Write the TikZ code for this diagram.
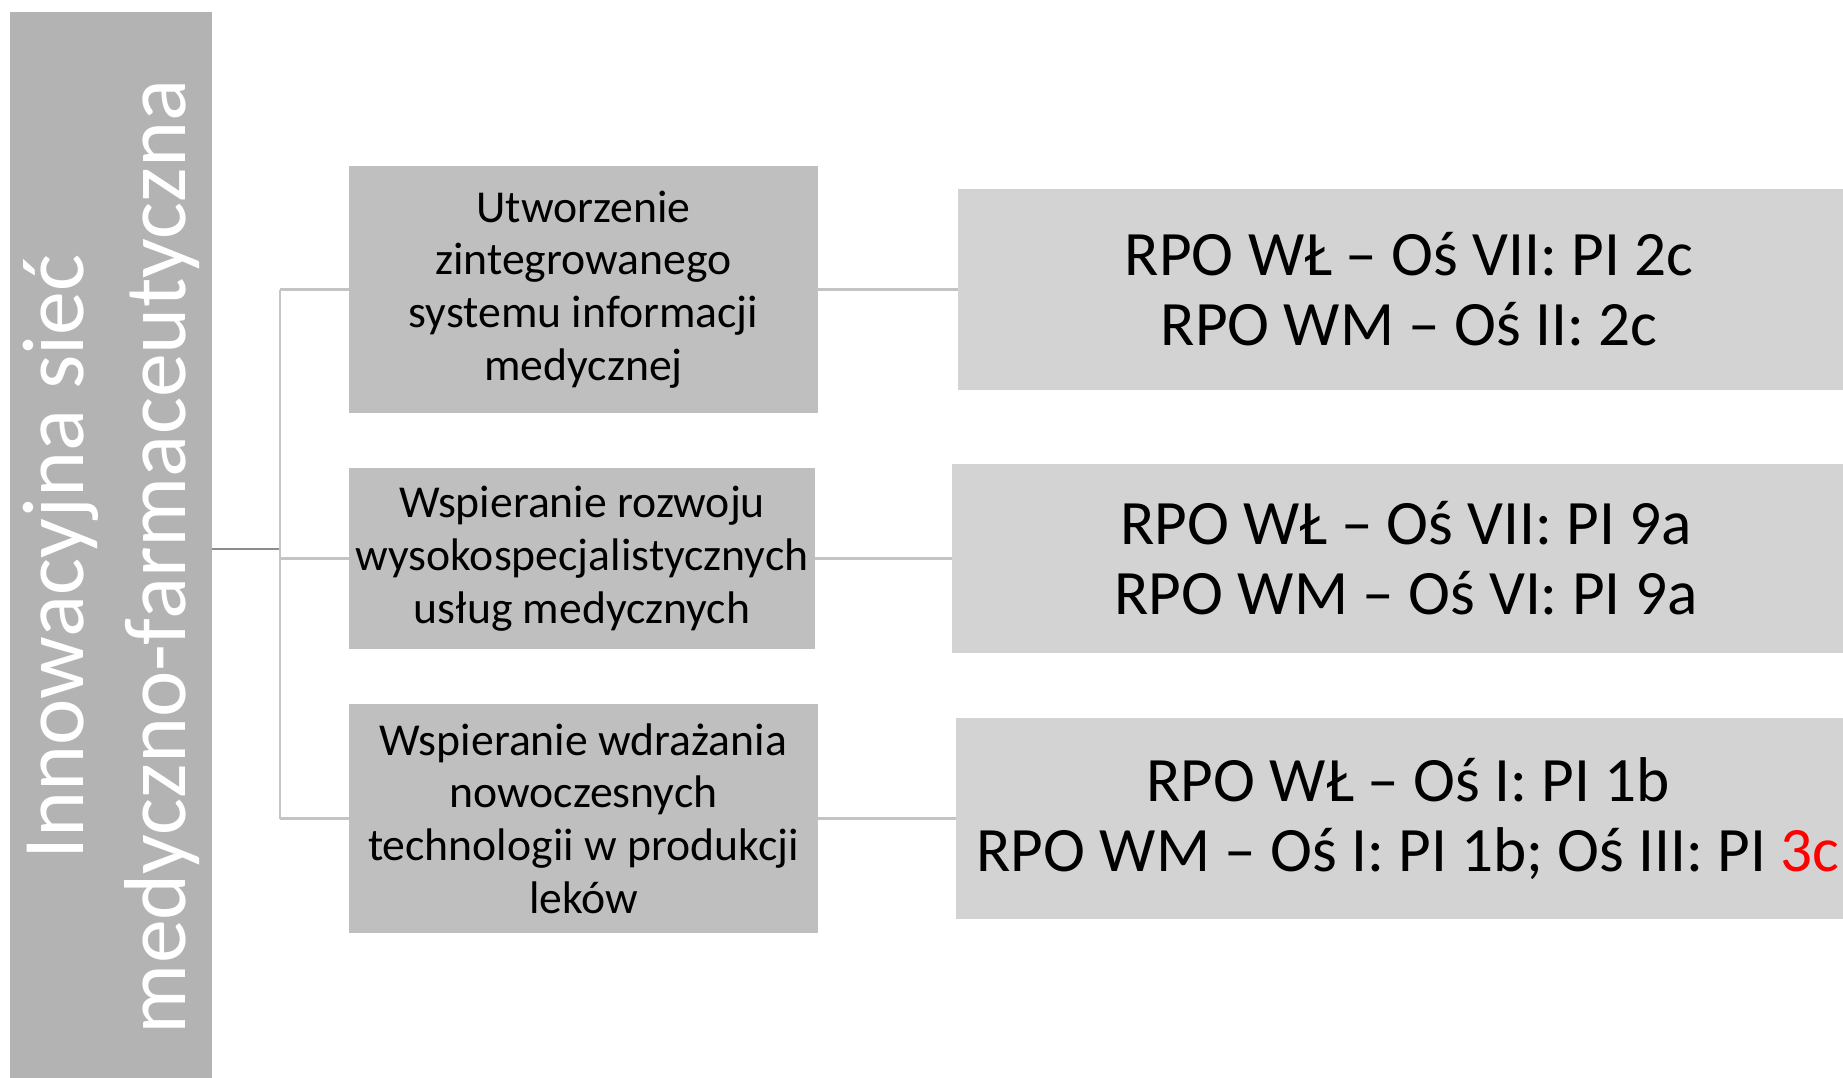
\documentclass[tikz,border=0pt]{standalone}
\usepackage{fontspec}
\setmainfont{Carlito}
\definecolor{balken}{HTML}{B3B3B3}
\definecolor{mittel}{HTML}{BFBFBF}
\definecolor{hell}{HTML}{D3D3D3}
\definecolor{linie}{HTML}{C4C4C4}

\begin{document}
\begin{tikzpicture}[x=0.02cm,y=-0.02cm,
    ziel/.style={fill=mittel,inner sep=0pt,align=center,font=\fontsize{26}{30}\selectfont},
    programm/.style={fill=hell,inner sep=0pt,align=center,font=\fontsize{36}{40}\selectfont},
    ast/.style={draw=linie,line width=1.2pt}]
    \clip (0,0) rectangle (1843,1078);

    % Balken
    \node[fill=balken,rotate=90,minimum width=21.8cm,minimum height=4.04cm,inner sep=0pt,
        text=white,align=center,font=\fontsize{50}{58}\selectfont] (netz) at (111,557)
        {Innowacyjna sieć\\medyczno-farmaceutyczna};

    % Ziele
    \node[ziel,minimum width=9.38cm,minimum height=4.94cm] (ziel1) at (583.5,289.5)
        {Utworzenie\\zintegrowanego\\systemu informacji\\medycznej};
    \node[ziel,minimum width=9.32cm,minimum height=3.64cm] (ziel2) at (582,558.5)
        {Wspieranie rozwoju\\wysokospecjalistycznych\\usług medycznych};
    \node[ziel,minimum width=9.38cm,minimum height=4.58cm] (ziel3) at (583.5,818.5)
        {Wspieranie wdrażania\\nowoczesnych\\technologii w produkcji\\leków};

    % Programme
    \node[programm,minimum width=18.04cm,minimum height=4.02cm] (rpo1) at (1409,289.5)
        {RPO WŁ – Oś VII: PI 2c\\RPO WM – Oś II: 2c};
    \node[programm,minimum width=18.16cm,minimum height=3.78cm] (rpo2) at (1406,558.5)
        {RPO WŁ – Oś VII: PI 9a\\RPO WM – Oś VI: PI 9a};
    \node[programm,minimum width=18.08cm,minimum height=4.02cm] (rpo3) at (1408,818.5)
        {RPO WŁ – Oś I: PI 1b\\RPO WM – Oś I: PI 1b; Oś III: PI \textcolor{red}{3c}};

    % Verbindungen
    \coordinate (knoten) at (280,549);
    \draw[draw=black!45,line width=1.5pt] (knoten -| netz.south) -- (knoten);
    \draw[ast] (knoten |- ziel1.west) -- (knoten |- ziel3.west);
    \draw[ast] (knoten |- ziel1.west) -- (ziel1.west);
    \draw[ast] (knoten |- ziel2.west) -- (ziel2.west);
    \draw[ast] (knoten |- ziel3.west) -- (ziel3.west);
    \draw[ast] (ziel1.east) -- (rpo1.west);
    \draw[ast] (ziel2.east) -- (rpo2.west);
    \draw[ast] (ziel3.east) -- (rpo3.west);
\end{tikzpicture}
\end{document}
